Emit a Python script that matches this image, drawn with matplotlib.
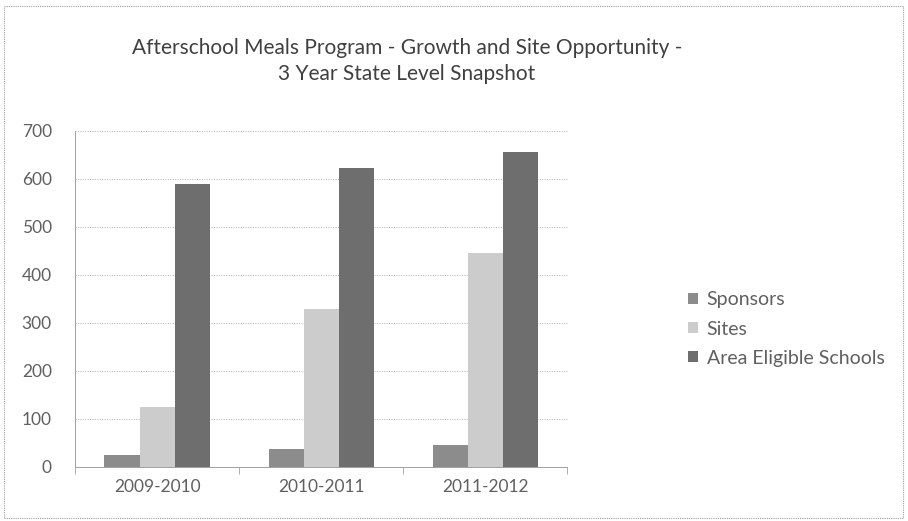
import matplotlib
matplotlib.use("Agg")
import matplotlib.pyplot as plt
import numpy as np

categories = ["2009-2010", "2010-2011", "2011-2012"]
series_names = ["Sponsors", "Sites", "Area Eligible Schools"]
sponsors = [25, 38, 45]
sites = [125, 328, 445]
area_eligible = [590, 623, 655]
colors = ["#8c8c8c", "#cccccc", "#6e6e6e"]

plt.rcParams['font.family'] = ['Lato', 'DejaVu Sans']

fig = plt.figure(figsize=(9.08, 5.21), dpi=100)
fig.patch.set_facecolor("white")
# outer chart border
border = plt.Rectangle((0.004, 0.006), 0.99, 0.983, transform=fig.transFigure,
                       fill=False, edgecolor="#a0a0a0", linewidth=0.8, linestyle=(0, (1, 1)))
fig.add_artist(border)

ax = fig.add_axes([0.083, 0.104, 0.542, 0.645])
x = np.arange(len(categories))
w = 0.215
for i, (vals, name) in enumerate(zip([sponsors, sites, area_eligible], series_names)):
    ax.bar(x + (i - 1) * w, vals, width=w, color=colors[i], label=name, zorder=3)

ax.set_xlim(-0.5, 2.5)
ax.set_ylim(0, 700)
ax.set_yticks(range(0, 701, 100))
ax.yaxis.grid(True, color="#b0b0b0", linewidth=0.7, linestyle=(0, (1, 1.5)), zorder=0)
ax.set_xticks(x)
ax.set_xticklabels(categories, fontsize=12.5, color="#606060")
ax.set_xticks([-0.5, 0.5, 1.5, 2.5], minor=True)
ax.tick_params(axis="x", which="major", length=0, pad=9)
ax.tick_params(axis="x", which="minor", length=5, color="#a0a0a0")
ax.tick_params(axis="y", length=0, labelsize=12.5, labelcolor="#606060", pad=17)
for s in ["top", "right"]:
    ax.spines[s].set_visible(False)
ax.spines["left"].set_color("#a0a0a0")
ax.spines["left"].set_linewidth(0.7)
ax.spines["bottom"].set_color("#a0a0a0")
ax.spines["bottom"].set_linewidth(0.7)

fig.text(0.448, 0.883, "Afterschool Meals Program - Growth and Site Opportunity -\n3 Year State Level Snapshot",
         ha="center", va="center", fontsize=15, color="#404040", linespacing=1.35)

leg = ax.legend(loc="center left", bbox_to_anchor=(1.21, 0.41), frameon=False,
                fontsize=14, handlelength=0.5, handleheight=0.5, handletextpad=0.45,
                labelspacing=0.62, labelcolor="#606060")

fig.savefig("out.png", dpi=100, facecolor="white")
